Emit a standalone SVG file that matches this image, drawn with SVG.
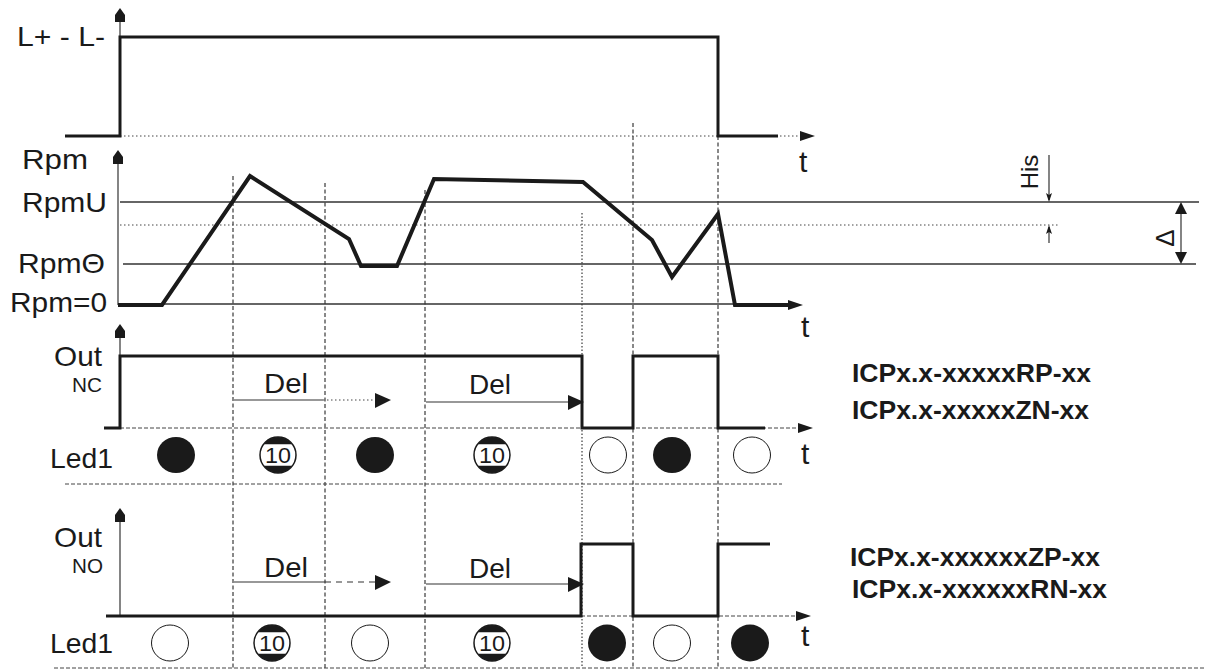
<svg xmlns="http://www.w3.org/2000/svg" width="1206" height="669" viewBox="0 0 1206 669">
<style>
text{font-family:"Liberation Sans",Arial,sans-serif;fill:#1a1a1a}
.lbl{font-size:28px}
.tl{font-size:30px}
.sub{font-size:20px}
.bold{font-size:26px;font-weight:bold}
.sig{fill:none;stroke:#1a1a1a;stroke-width:3;stroke-linejoin:miter}
.curve{fill:none;stroke:#1a1a1a;stroke-width:4;stroke-linejoin:miter}
.thin{fill:none;stroke:#333;stroke-width:1.5}
.axis{fill:none;stroke:#333;stroke-width:1.2}
.vguide{fill:none;stroke:#111;stroke-width:1;stroke-dasharray:4 2.5}
.vdot{fill:none;stroke:#111;stroke-width:1;stroke-dasharray:1.5 2}
.hdash{fill:none;stroke:#444;stroke-width:1;stroke-dasharray:4 2}
.hdot{fill:none;stroke:#444;stroke-width:1;stroke-dasharray:1.5 2.5}
.head{fill:#1a1a1a;stroke:none}
.ledon{fill:#1a1a1a}
.ledoff{fill:#fff;stroke:#1a1a1a;stroke-width:1}
</style>
<defs>
<g id="led10">
<circle r="18" fill="#fff" stroke="#1a1a1a" stroke-width="1.5"/>
<path d="M-14.4,-10.8 A18,18 0 0 1 14.4,-10.8 Z" fill="#1a1a1a"/>
<path d="M-14.4,10.8 A18,18 0 0 0 14.4,10.8 Z" fill="#1a1a1a"/>
<text x="0" y="8" text-anchor="middle" font-size="22" textLength="26" lengthAdjust="spacingAndGlyphs">10</text>
</g>
<path id="uparrow" d="M0,0 L5,7 L5,14 L-5,14 L-5,7 Z"/>
<path id="rarrow" d="M0,0 L-15,-5 L-15,5 Z"/>
</defs>

<rect width="1206" height="669" fill="#fff"/>

<g id="guides">
<line class="vguide" x1="233" y1="176" x2="233" y2="668"/>
<line class="vguide" x1="325" y1="183" x2="325" y2="668"/>
<line class="vguide" x1="425" y1="190" x2="425" y2="668"/>
<line class="vdot" x1="582" y1="213" x2="582" y2="668"/>
<line class="vguide" x1="633" y1="123" x2="633" y2="668"/>
<line class="vguide" x1="718" y1="136" x2="718" y2="668"/>
<line class="hdash" x1="65" y1="484" x2="782" y2="484"/>
<line class="hdash" x1="54" y1="668" x2="1206" y2="668"/>
</g>

<g id="panel-power">
<line class="axis" x1="120" y1="20" x2="120" y2="136"/>
<use href="#uparrow" x="120" y="8" class="head"/>
<line class="hdot" x1="120" y1="136" x2="802" y2="136"/>
<use href="#rarrow" x="815" y="136" class="head"/>
<polyline class="sig" points="65,136 120,136 120,37 718,37 718,136 778,136"/>
<text class="lbl" x="17" y="46" textLength="88" lengthAdjust="spacingAndGlyphs">L+ - L-</text>
<text class="tl" x="799" y="172">t</text>
</g>

<g id="panel-rpm">
<line class="axis" x1="118" y1="162" x2="118" y2="305"/>
<use href="#uparrow" x="118" y="150" class="head"/>
<line class="thin" x1="120" y1="202" x2="1199" y2="202"/>
<line class="hdot" x1="120" y1="225" x2="1058" y2="225"/>
<line class="thin" x1="123" y1="264" x2="1196" y2="264"/>
<line class="thin" x1="118" y1="304" x2="790" y2="304"/>
<polyline class="curve" points="118,305 162,305 250,176 349,239 361,266 397,266 434,179 583,182 652,240 672,277 718,214 735,305 790,305"/>
<use href="#rarrow" x="803" y="305" class="head"/>
<text class="lbl" x="22" y="169" textLength="66" lengthAdjust="spacingAndGlyphs">Rpm</text>
<text class="lbl" x="22" y="212" textLength="85" lengthAdjust="spacingAndGlyphs">RpmU</text>
<text class="lbl" x="18" y="273" textLength="87" lengthAdjust="spacingAndGlyphs">RpmΘ</text>
<text class="lbl" x="10" y="312" textLength="97" lengthAdjust="spacingAndGlyphs">Rpm=0</text>
<text class="tl" x="801" y="337">t</text>
</g>

<g id="hysteresis">
<line class="axis" x1="1049" y1="155" x2="1049" y2="200"/>
<path d="M1049,202 L1046,193 L1049,195 L1052,193 Z" class="head"/>
<line class="axis" x1="1049" y1="243" x2="1049" y2="227"/>
<path d="M1049,225 L1046,234 L1049,232 L1052,234 Z" class="head"/>
<text font-size="24" text-anchor="middle" transform="translate(1038,172) rotate(-90)">His</text>
<line class="axis" x1="1181" y1="212" x2="1181" y2="254" stroke-width="1.5"/>
<path d="M1181,202 L1175,214 L1187,214 Z" class="head"/>
<path d="M1181,264 L1175,252 L1187,252 Z" class="head"/>
<text font-size="26" text-anchor="middle" transform="translate(1174,238) rotate(-90)">Δ</text>
</g>

<g id="panel-out-nc">
<line class="axis" x1="120" y1="335" x2="120" y2="428"/>
<use href="#uparrow" x="120" y="324" class="head"/>
<line class="hdash" x1="120" y1="428" x2="800" y2="428"/>
<use href="#rarrow" x="813" y="428" class="head"/>
<polyline class="sig" points="104,428 120,428 120,356 582,356 582,428 633,428 633,356 718,356 718,428 765,428"/>
<text class="lbl" x="54" y="366" textLength="48" lengthAdjust="spacingAndGlyphs">Out</text>
<text class="sub" x="72" y="392" textLength="30" lengthAdjust="spacingAndGlyphs">NC</text>
<line class="axis" x1="234" y1="400" x2="323" y2="400"/>
<line class="hdot" x1="323" y1="400" x2="376" y2="400"/>
<path d="M391,400 L375,393 L375,408 Z" class="head"/>
<text class="lbl" x="264" y="393" textLength="44" lengthAdjust="spacingAndGlyphs">Del</text>
<line class="axis" x1="426" y1="402" x2="570" y2="402"/>
<path d="M584,402 L568,395 L568,410 Z" class="head"/>
<text class="lbl" x="469" y="394" textLength="42" lengthAdjust="spacingAndGlyphs">Del</text>
<text class="tl" x="801" y="464">t</text>
</g>

<g id="leds-nc">
<text class="lbl" x="50" y="468" textLength="63" lengthAdjust="spacingAndGlyphs">Led1</text>
<ellipse class="ledon" cx="176" cy="455" rx="19" ry="18"/>
<use href="#led10" x="278" y="455"/>
<ellipse class="ledon" cx="375" cy="455" rx="19" ry="18"/>
<use href="#led10" x="492" y="455"/>
<ellipse class="ledoff" cx="608" cy="455" rx="18.5" ry="18"/>
<ellipse class="ledon" cx="672" cy="455" rx="19" ry="18"/>
<ellipse class="ledoff" cx="752" cy="455" rx="18.5" ry="18"/>
</g>

<g id="labels-nc">
<text class="bold" x="852" y="382" textLength="239" lengthAdjust="spacingAndGlyphs">ICPx.x-xxxxxRP-xx</text>
<text class="bold" x="852" y="419" textLength="237" lengthAdjust="spacingAndGlyphs">ICPx.x-xxxxxZN-xx</text>
</g>

<g id="panel-out-no">
<line class="axis" x1="120" y1="520" x2="120" y2="616"/>
<use href="#uparrow" x="120" y="508" class="head"/>
<line class="hdash" x1="581" y1="616" x2="798" y2="616"/>
<use href="#rarrow" x="811" y="616" class="head"/>
<polyline class="sig" points="106,616 581,616 581,544 633,544 633,616 718,616 718,544 770,544"/>
<text class="lbl" x="54" y="547" textLength="48" lengthAdjust="spacingAndGlyphs">Out</text>
<text class="sub" x="72" y="573" textLength="31" lengthAdjust="spacingAndGlyphs">NO</text>
<line class="axis" x1="234" y1="582" x2="325" y2="582"/>
<line class="axis" x1="325" y1="582" x2="376" y2="582" stroke-dasharray="6 5"/>
<path d="M391,582 L375,575 L375,590 Z" class="head"/>
<text class="lbl" x="264" y="577" textLength="44" lengthAdjust="spacingAndGlyphs">Del</text>
<line class="axis" x1="426" y1="584" x2="570" y2="584"/>
<path d="M584,584 L568,577 L568,592 Z" class="head"/>
<text class="lbl" x="469" y="578" textLength="42" lengthAdjust="spacingAndGlyphs">Del</text>
<text class="tl" x="801" y="646">t</text>
</g>

<g id="leds-no">
<text class="lbl" x="50" y="653" textLength="63" lengthAdjust="spacingAndGlyphs">Led1</text>
<ellipse class="ledoff" cx="170" cy="643" rx="18.5" ry="18"/>
<use href="#led10" x="272" y="643"/>
<ellipse class="ledoff" cx="370" cy="643" rx="18.5" ry="18"/>
<use href="#led10" x="492" y="643"/>
<ellipse class="ledon" cx="607" cy="643" rx="19" ry="18.5"/>
<ellipse class="ledoff" cx="672" cy="643" rx="18.5" ry="18"/>
<ellipse class="ledon" cx="750" cy="643" rx="19" ry="18.5"/>
</g>

<g id="labels-no">
<text class="bold" x="850" y="566" textLength="250" lengthAdjust="spacingAndGlyphs">ICPx.x-xxxxxxZP-xx</text>
<text class="bold" x="852" y="598" textLength="255" lengthAdjust="spacingAndGlyphs">ICPx.x-xxxxxxRN-xx</text>
</g>
</svg>
